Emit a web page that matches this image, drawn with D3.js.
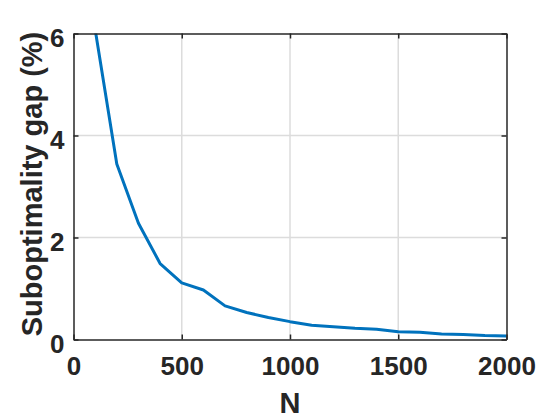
<!DOCTYPE html>
<html>
<head>
<meta charset="utf-8">
<script src="https://cdn.jsdelivr.net/npm/d3@7"></script>
<style>
  body { margin: 0; background: #fff; }
  text { font-family: "Liberation Sans", Arial, sans-serif; font-weight: bold; fill: #262626; }
</style>
</head>
<body>
<div id="chart"></div>
<script>
// sample sizes and gaps
const sampleN = [100, 200, 300, 400, 500, 600, 700, 800, 900, 1000,
                 1100, 1200, 1300, 1400, 1500, 1600, 1700, 1800, 1900, 2000];
const gapPct = [6.08, 3.44, 2.28, 1.49, 1.11, 0.97, 0.66, 0.53, 0.43, 0.35,
                0.28, 0.25, 0.22, 0.20, 0.15, 0.14, 0.11, 0.10, 0.08, 0.07];
const xTicks = [0, 500, 1000, 1500, 2000];
const yTicks = [0, 2, 4, 6];

const width = 560, height = 420;
const margin = {top: 33.5, right: 53.5, bottom: 80.5, left: 73.5};
const w = width - margin.left - margin.right;
const h = height - margin.top - margin.bottom;

let svg = d3.select("#chart").append("svg")
    .attr("width", width)
    .attr("height", height);

let xScale = d3.scaleLinear().domain([0, 2000]).range([0, w]);
let yScale = d3.scaleLinear().domain([0, 6]).range([h, 0]);

let g = svg.append("g")
    .attr("transform", "translate(" + margin.left + "," + margin.top + ")");

// grid
g.selectAll(".vgrid").data(xTicks.slice(1, -1)).enter().append("line")
    .attr("x1", d => xScale(d)).attr("x2", d => xScale(d))
    .attr("y1", 0).attr("y2", h)
    .attr("stroke", "#dcdcdc").attr("stroke-width", 1.5);
g.selectAll(".hgrid").data(yTicks.slice(1, -1)).enter().append("line")
    .attr("x1", 0).attr("x2", w)
    .attr("y1", d => yScale(d)).attr("y2", d => yScale(d))
    .attr("stroke", "#dcdcdc").attr("stroke-width", 1.5);

// data line, clipped to the axes box
svg.append("defs").append("clipPath").attr("id", "clip")
    .append("rect").attr("width", w).attr("height", h);

let line = d3.line()
    .x((d, i) => xScale(sampleN[i]))
    .y(d => yScale(d));

g.append("path")
    .datum(gapPct)
    .attr("clip-path", "url(#clip)")
    .attr("d", line)
    .attr("fill", "none")
    .attr("stroke", "#0072BD")
    .attr("stroke-width", 3)
    .attr("stroke-linejoin", "round");

// axes (ticks inward, box on)
let tickLen = 5;
let fmt = d3.format("d");
let xAxis = d3.axisBottom(xScale).tickValues(xTicks).tickFormat(fmt)
    .tickSizeInner(-tickLen).tickSizeOuter(0).tickPadding(17);
let yAxis = d3.axisLeft(yScale).tickValues(yTicks).tickFormat(fmt)
    .tickSizeInner(-tickLen).tickSizeOuter(0).tickPadding(9);

let xAx = g.append("g").attr("transform", "translate(0," + h + ")").call(xAxis);
let yAx = g.append("g").call(yAxis);
g.append("g").call(d3.axisTop(xScale).tickValues(xTicks).tickSizeInner(-tickLen).tickSizeOuter(0).tickFormat(""));
g.append("g").attr("transform", "translate(" + w + ",0)")
    .call(d3.axisRight(yScale).tickValues(yTicks).tickSizeInner(-tickLen).tickSizeOuter(0).tickFormat(""));

g.selectAll(".domain").attr("stroke", "#262626").attr("stroke-width", 1.5);
g.selectAll(".tick line").attr("stroke", "#262626").attr("stroke-width", 1.5);
g.selectAll(".tick text").attr("font-size", 26).attr("fill", "#262626")
    .attr("font-family", "Liberation Sans, Arial, sans-serif").attr("font-weight", "bold");
yAx.selectAll(".tick text").attr("dy", "0.68em").attr("y", -5);

// labels
svg.append("text")
    .text("N")
    .attr("text-anchor", "middle")
    .attr("font-size", 29)
    .attr("x", margin.left + xScale(1000))
    .attr("y", 413);

svg.append("text")
    .text("Suboptimality gap (%)")
    .attr("text-anchor", "middle")
    .attr("font-size", 29)
    .attr("transform", "translate(41.5," + 184 + ") rotate(-90)");
</script>
</body>
</html>
